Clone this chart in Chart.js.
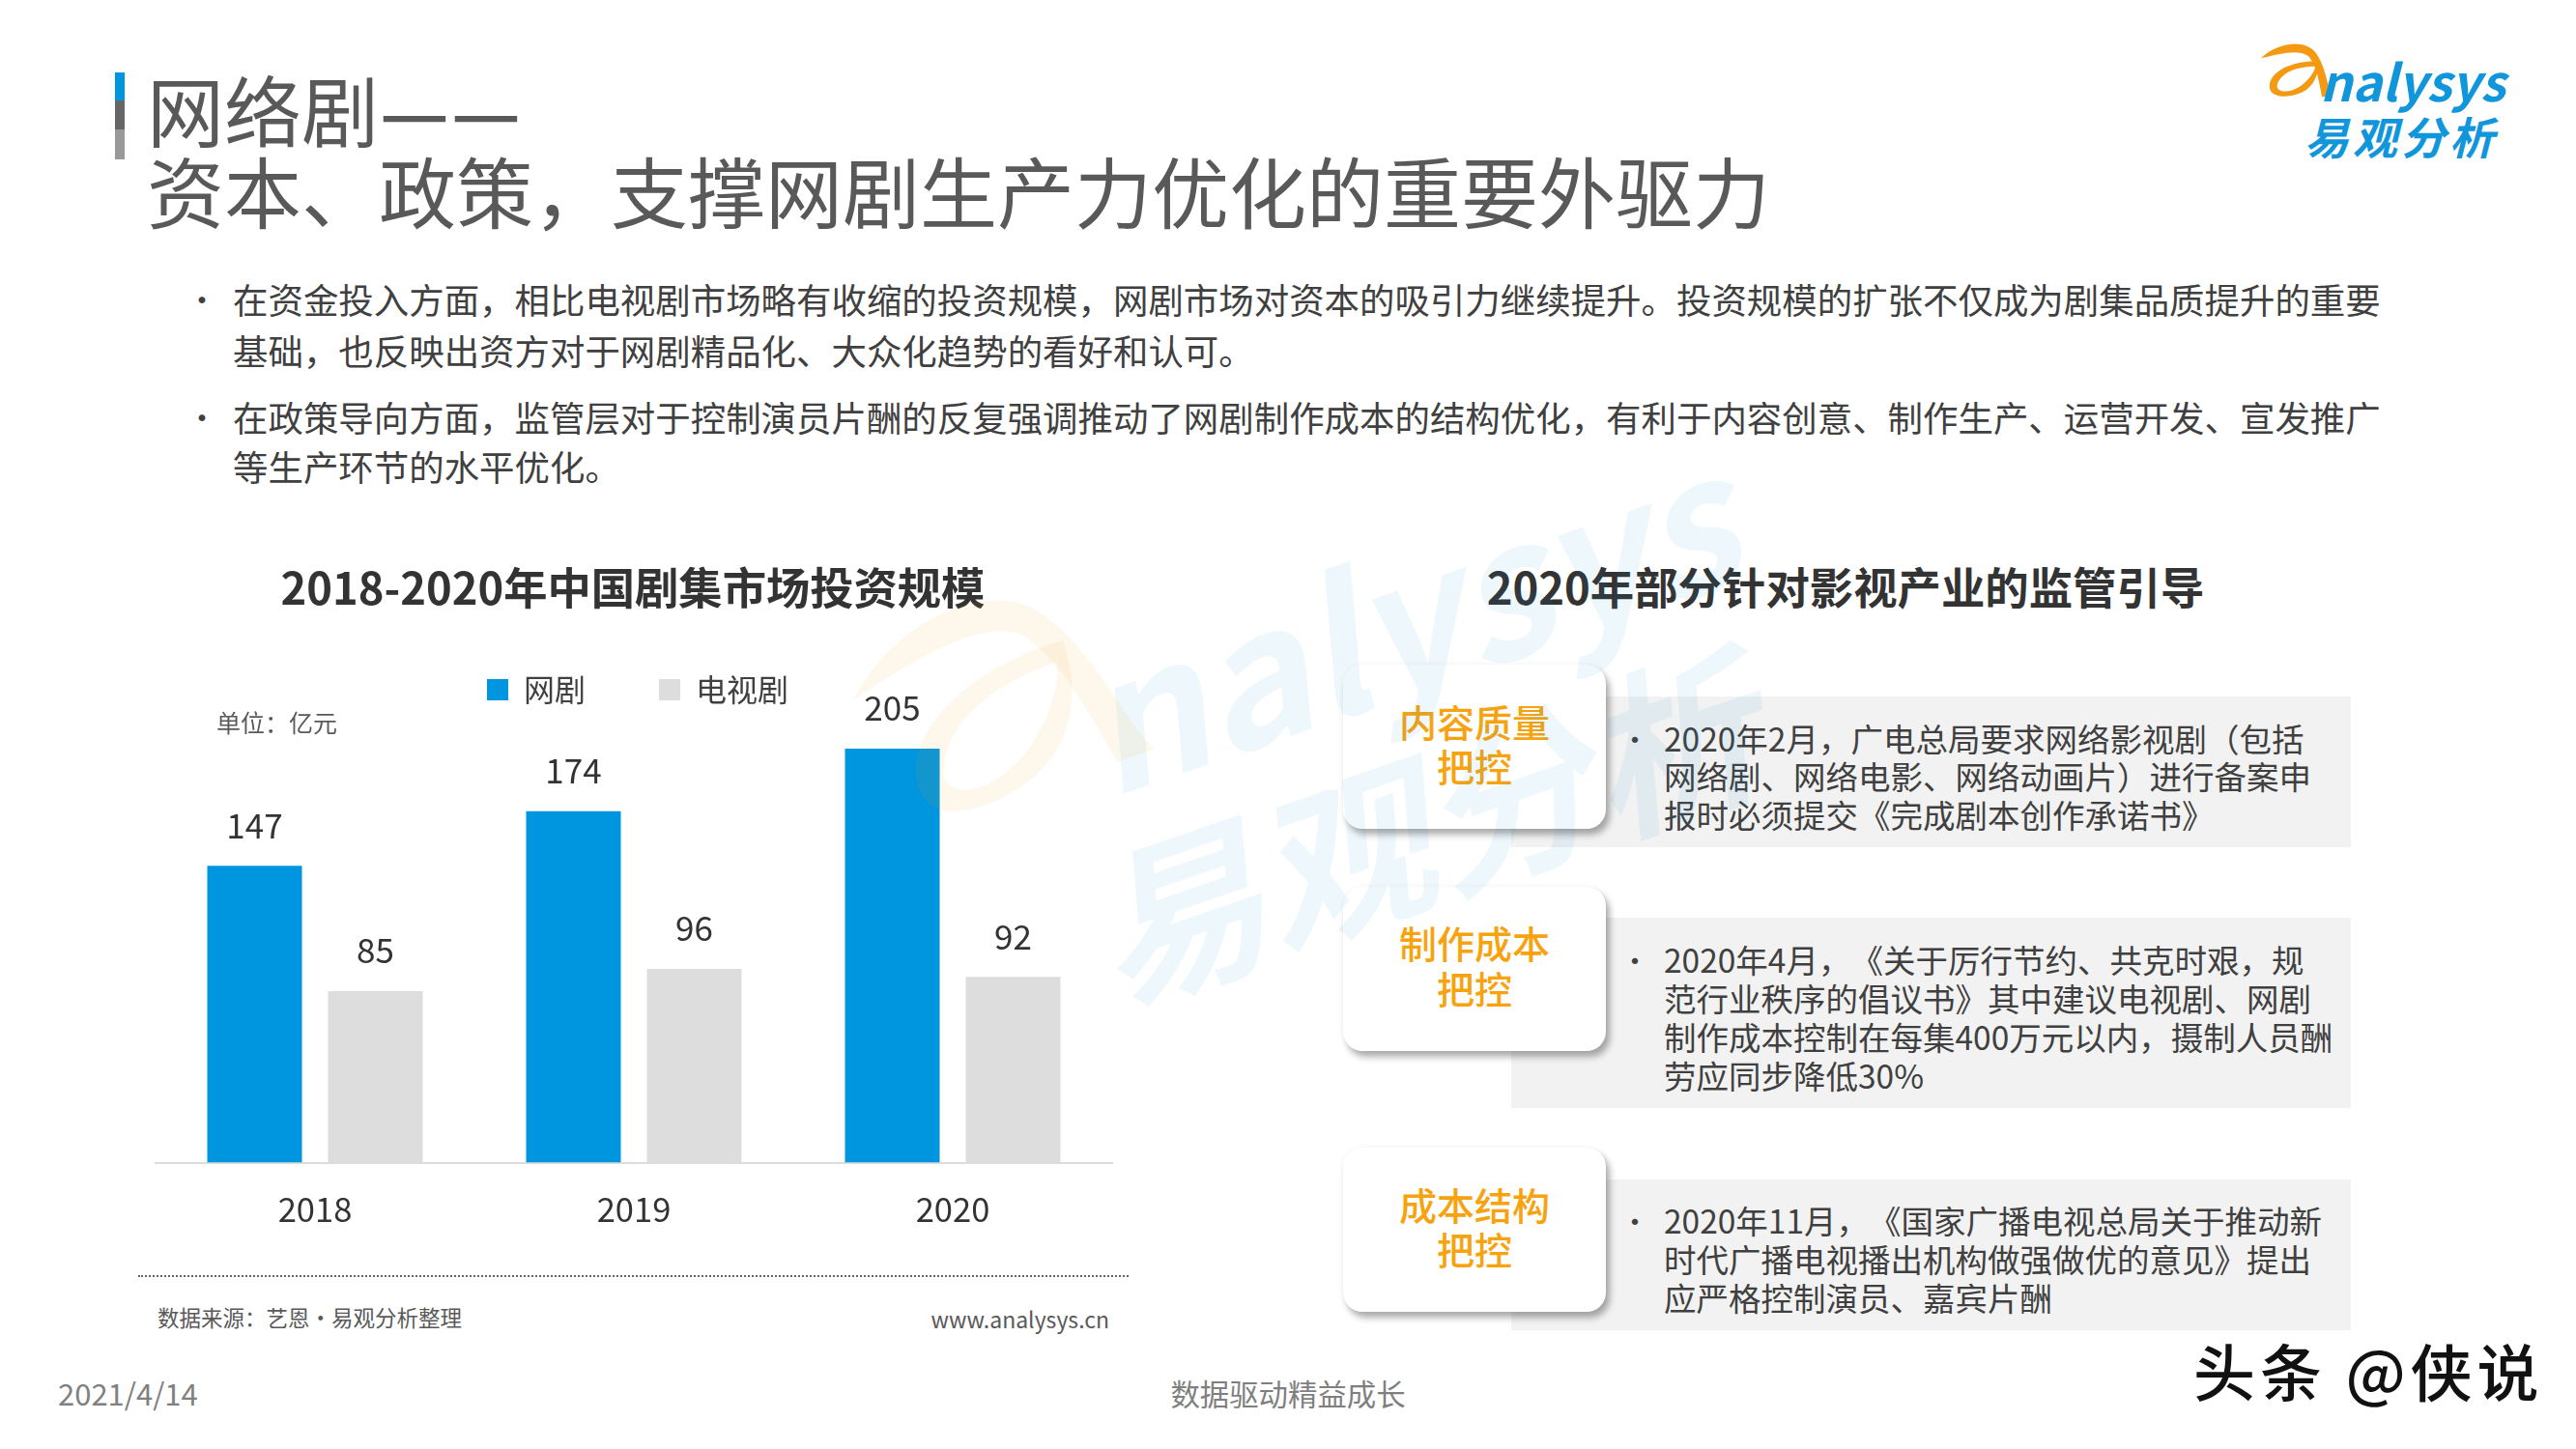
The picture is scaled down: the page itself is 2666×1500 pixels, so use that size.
<!DOCTYPE html>
<html>
<head>
<meta charset="utf-8">
<title>网络剧</title>
<script src="https://cdn.jsdelivr.net/npm/chart.js@4"></script>
<style>
html, body { margin: 0; padding: 0; background: #fff; }
#page { position: relative; width: 2666px; height: 1500px; overflow: hidden; background: #fff; font-family: "Noto Sans CJK SC", "Noto Sans", sans-serif; text-spacing-trim: space-all; font-feature-settings: "palt" 0, "chws" 0; }
#page span.t { position: absolute; white-space: nowrap; transform: translateY(-50%); line-height: 1; }
#page div.box { position: absolute; }
#chart1 { position: absolute; left: 100px; top: 622px; }
.card { background: #fff; border-radius: 20px; box-shadow: 4px 6px 7px rgba(0,0,0,0.32), 0 0 6px rgba(0,0,0,0.04); }
.panel { background: #f2f2f2; }
svg.mark { position: absolute; pointer-events: none; }
</style>
</head>
<body>
<div id="page">
  <div class="box" style="left:119px;top:75px;width:10px;height:29px;background:#0095df"></div>
  <div class="box" style="left:119px;top:104px;width:10px;height:30px;background:#666"></div>
  <div class="box" style="left:119px;top:134px;width:10px;height:31px;background:#999"></div>

  <div class="box panel" style="left:1564px;top:721px;width:869px;height:156px"></div>
  <div class="box panel" style="left:1564px;top:950px;width:869px;height:197px"></div>
  <div class="box panel" style="left:1564px;top:1221px;width:869px;height:156px"></div>
  <div class="box card" style="left:1390px;top:688px;width:272px;height:170px"></div>
  <div class="box card" style="left:1390px;top:918px;width:272px;height:170px"></div>
  <div class="box card" style="left:1390px;top:1188px;width:272px;height:170px"></div>

  <div class="box" style="left:143px;top:1320px;width:1025px;height:0;border-top:2px dotted #666"></div>

  <canvas id="chart1" width="1128" height="679"></canvas>

  <svg width="0" height="0" style="position:absolute">
    <defs>
      <symbol id="swoosh" viewBox="400 110 260 210">
        <path d="M420 180 C470 130 560 118 592 165 C620 205 625 260 642 300 L610 300 C600 250 595 210 570 175 C540 150 480 165 420 180 Z"/>
        <path fill-rule="evenodd" d="M600 190 C530 185 450 215 447 265 C445 305 510 305 550 285 C585 265 600 230 600 190 Z M590 205 C530 205 480 225 470 265 C470 287 510 290 545 265 C570 245 585 225 590 205 Z"/>
      </symbol>
    </defs>
  </svg>
  <svg class="mark" style="left:2333px;top:37px" width="87" height="70" fill="#f39a12"><use href="#swoosh"/></svg>
</div>

<script>
var categories = ["2018", "2019", "2020"];
var webDramaValues = [147, 174, 205];
var tvDramaValues = [85, 96, 92];
var seriesNames = ["网剧", "电视剧"];

var introLines = [
    ["在资金投入方面，相比电视剧市场略有收缩的投资规模，网剧市场对资本的吸引力继续提升。投资规模的扩张不仅成为剧集品质提升的重要", 309, true],
    ["基础，也反映出资方对于网剧精品化、大众化趋势的看好和认可。", 362, false],
    ["在政策导向方面，监管层对于控制演员片酬的反复强调推动了网剧制作成本的结构优化，有利于内容创意、制作生产、运营开发、宣发推广", 431, true],
    ["等生产环节的水平优化。", 482, false]
];
var cardLabels = [
    ["内容质量", 746], ["把控", 792],
    ["制作成本", 975], ["把控", 1022],
    ["成本结构", 1246], ["把控", 1292]
];
var panelLines = [
    ["2020年2月，广电总局要求网络影视剧（包括", 764, true],
    ["网络剧、网络电影、网络动画片）进行备案申", 803, false],
    ["报时必须提交《完成剧本创作承诺书》", 843, false],
    ["2020年4月，《关于厉行节约、共克时艰，规", 993, true],
    ["范行业秩序的倡议书》其中建议电视剧、网剧", 1033, false],
    ["制作成本控制在每集400万元以内，摄制人员酬", 1073, false],
    ["劳应同步降低30%", 1113, false],
    ["2020年11月，《国家广播电视总局关于推动新", 1263, true],
    ["时代广播电视播出机构做强做优的意见》提出", 1303, false],
    ["应严格控制演员、嘉宾片酬", 1343, false]
];

var page = document.getElementById("page");

function addText(str, x, y, size, color, opts) {
    opts = opts || {};
    var el = document.createElement("span");
    el.className = "t";
    el.textContent = str;
    el.style.left = x + "px";
    el.style.top = y + "px";
    el.style.fontSize = size + "px";
    el.style.color = color;
    if (opts.bold) { el.style.fontWeight = "bold"; }
    if (opts.weight) { el.style.fontWeight = opts.weight; }
    if (opts.italic) { el.style.fontStyle = "italic"; }
    if (opts.center) { el.style.transform = "translate(-50%,-50%)"; }
    if (opts.right) { el.style.transform = "translate(-100%,-50%)"; }
    if (opts.spacing) { el.style.letterSpacing = opts.spacing + "px"; }
    page.appendChild(el);
    return el;
}

// 상단 제목
addText("网络剧", 152, 111, 80, "#595959");
addText("—", 393, 111, 80, "#595959", {weight: 500});
addText("—", 467, 111, 80, "#595959", {weight: 500});
addText("资本、政策，支撑网剧生产力优化的重要外驱力", 152, 195, 80, "#595959");

introLines.forEach(function(line) {
    addText(line[0], 241, line[1], 36.45, "#404040");
    if (line[2]) { addText("•", 193, line[1], 32, "#404040"); }
});

addText("2018-2020年中国剧集市场投资规模", 655, 607, 45.3, "#333", {bold: true, center: true});
addText("2020年部分针对影视产业的监管引导", 1910, 607, 45.4, "#333", {bold: true, center: true});
addText("单位：亿元", 224, 747, 25, "#595959");

cardLabels.forEach(function(line) {
    addText(line[0], 1526, line[1], 39, "#f7a30f", {center: true, weight: 500});
});
panelLines.forEach(function(line) {
    addText(line[0], 1722, line[1], 33.5, "#404040");
    if (line[2]) { addText("•", 1677, line[1], 30, "#404040"); }
});

addText("数据来源：艺恩·易观分析整理", 163, 1363, 22.5, "#595959");
addText("www.analysys.cn", 1148, 1365, 23, "#595959", {right: true});
addText("2021/4/14", 60, 1441, 31, "#808080");
addText("数据驱动精益成长", 1333, 1442, 30.4, "#7f7f7f", {center: true});
addText("头条 @侠说", 2270, 1417, 64, "#111", {spacing: 5, weight: 500});

// 로고
addText("nalysys", 2401, 83, 52, "#1296db", {bold: true, italic: true});
addText("易观分析", 2385, 140, 46, "#1296db", {bold: true, italic: true, spacing: 4});

// 수치 라벨
var valueLabels = {
    id: "valueLabels",
    afterDatasetsDraw: function(chart) {
        var ctx = chart.ctx;
        ctx.save();
        ctx.font = "35px 'Noto Sans CJK SC'";
        ctx.fillStyle = "#333";
        ctx.textAlign = "center";
        ctx.textBaseline = "middle";
        chart.data.datasets.forEach(function(ds, i) {
            chart.getDatasetMeta(i).data.forEach(function(bar, j) {
                ctx.fillText(ds.data[j], bar.x, bar.y - 42);
            });
        });
        ctx.restore();
    }
};

// 범례 높이 보정
var legendFit = {
    id: "legendFit",
    beforeInit: function(chart) {
        var fit = chart.legend.fit;
        chart.legend.fit = function() {
            fit.call(chart.legend);
            this.height = 59;
        };
    },
    beforeDraw: function(chart) {
        // 클립 영역은 실제 범례 행까지 늘리고, 가로 위치를 살짝 옮긴다
        chart.legend.bottom = chart.legend.top + 160;
        chart.legend.left = chart.chartArea.left + 4;
        chart.legend.right = chart.chartArea.right + 4;
    }
};

new Chart(document.getElementById("chart1").getContext("2d"), {
    type: "bar",
    data: {
        labels: categories,
        datasets: [{
            label: seriesNames[0],
            data: webDramaValues,
            backgroundColor: "#0095df",
            borderWidth: 0
        }, {
            label: seriesNames[1],
            data: tvDramaValues,
            backgroundColor: "#dddddd",
            borderWidth: 0
        }]
    },
    options: {
        responsive: false,
        animation: false,
        devicePixelRatio: 1,
        layout: { padding: { left: 61, right: 77, top: 0, bottom: 0 } },
        categoryPercentage: 0.7576,
        barPercentage: 0.784,
        plugins: {
            tooltip: { enabled: false },
            legend: {
                position: "top",
                labels: {
                    boxWidth: 22,
                    boxHeight: 22,
                    padding: 76,
                    color: "#404040",
                    font: { family: "'Noto Sans CJK SC'", size: 32 }
                }
            }
        },
        scales: {
            x: {
                grid: { display: false, drawTicks: false },
                border: { color: "#dcdcdc", width: 2 },
                ticks: {
                    padding: 28,
                    color: "#333",
                    font: { family: "'Noto Sans CJK SC'", size: 34.5 }
                }
            },
            y: { display: false, min: 0, max: 250 }
        }
    },
    plugins: [valueLabels, legendFit]
});

// 큰 워터마크
var wm = document.createElement("div");
wm.style.cssText = "position:absolute;left:0;top:0;width:2666px;height:1500px;pointer-events:none";
wm.innerHTML =
    '<svg class="mark" style="left:865px;top:590px;transform:rotate(-19deg)" width="325" height="262" fill="rgba(243,154,18,0.08)"><use href="#swoosh"/></svg>' +
    '<span class="t" style="left:1453px;top:635px;transform:translate(-50%,-50%) rotate(-19deg);font-size:190px;font-weight:bold;font-style:italic;color:rgba(18,150,219,0.07)">nalysys</span>' +
    '<span class="t" style="left:1470px;top:850px;transform:translate(-50%,-50%) rotate(-19deg);font-size:180px;font-weight:bold;font-style:italic;color:rgba(18,150,219,0.07)">易观分析</span>';
page.appendChild(wm);
</script>
</body>
</html>
